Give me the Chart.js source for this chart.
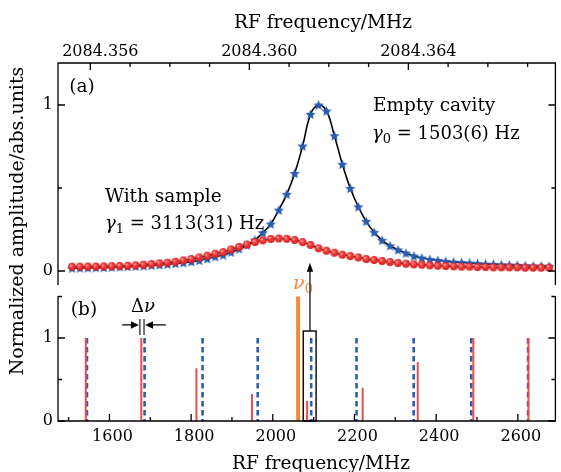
<!DOCTYPE html>
<html>
<head>
<meta charset="utf-8">
<script src="https://cdn.jsdelivr.net/npm/chart.js@4.4.1/dist/chart.umd.min.js"></script>
<style>
  html, body { margin: 0; padding: 0; background: #fff; }
</style>
</head>
<body>
<canvas id="myChart" width="561" height="472"></canvas>
<script>
// panel (a): sweep offsets in Hz from 2084.356 MHz (top axis)
const sweepHz = [
  -460, -260, -60, 140, 340, 540, 740, 940, 1140, 1340,
  1540, 1740, 1940, 2140, 2340, 2540, 2740, 2940, 3140, 3340,
  3540, 3740, 3940, 4140, 4340, 4540, 4740, 4940, 5140, 5340,
  5540, 5740, 5940, 6140, 6340, 6540, 6740, 6940, 7140, 7340,
  7540, 7740, 7940, 8140, 8340, 8540, 8740, 8940, 9140, 9340,
  9540, 9740, 9940, 10140, 10340, 10540, 10740, 10940, 11140, 11340,
  11540
];
const emptyCavity = [
  0.017, 0.018, 0.019, 0.020, 0.021, 0.023, 0.025, 0.027, 0.029, 0.031,
  0.034, 0.037, 0.041, 0.045, 0.050, 0.056, 0.064, 0.074, 0.086, 0.096,
  0.113, 0.133, 0.157, 0.187, 0.231, 0.283, 0.367, 0.462, 0.588, 0.753,
  0.944, 1.000, 0.964, 0.815, 0.643, 0.498, 0.387, 0.299, 0.233, 0.185,
  0.152, 0.127, 0.108, 0.090, 0.078, 0.070, 0.064, 0.058, 0.054, 0.051,
  0.048, 0.045, 0.042, 0.040, 0.038, 0.036, 0.034, 0.032, 0.030, 0.029,
  0.028
];
const withSample = [
  0.026, 0.026, 0.027, 0.027, 0.028, 0.029, 0.030, 0.032, 0.034, 0.038,
  0.042, 0.046, 0.050, 0.056, 0.064, 0.072, 0.082, 0.092, 0.104, 0.114,
  0.130, 0.145, 0.159, 0.175, 0.185, 0.193, 0.196, 0.194, 0.187, 0.174,
  0.157, 0.137, 0.122, 0.110, 0.098, 0.090, 0.082, 0.072, 0.066, 0.060,
  0.054, 0.048, 0.044, 0.040, 0.038, 0.034, 0.032, 0.030, 0.028, 0.026,
  0.026, 0.024, 0.024, 0.022, 0.022, 0.022, 0.022, 0.020, 0.020, 0.020,
  0.020
];

// panel (b): RF lines in MHz
const redFreq = [1542, 1678, 1813, 1949, 2084, 2220, 2355, 2491, 2626];
const redHeight = [1, 1, 0.635, 0.325, 0.24, 0.40, 0.71, 1, 1];
const blueFreq = [1545, 1686, 1828, 1963, 2094, 2205, 2345, 2486, 2625];
const blueHeight = [1, 1, 1, 1, 1, 1, 1, 1, 1];
const carrierFreq = [2062];
const carrierHeight = [1.5];

// ticks
const bottomMajor = [1600, 1800, 2000, 2200, 2400, 2600];
const bottomMinor = [1500, 1700, 1900, 2100, 2300, 2500];
const topMajorHz = [0, 4000, 8000];
const topLabels = ["2084.356", "2084.360", "2084.364"];
const topMinorHz = [1000, 2000, 3000, 5000, 6000, 7000, 9000, 10000, 11000];
const yaMajor = [0, 1], yaMinor = [0.5];
const ybMajor = [0, 1], ybMinor = [0.5, 1.5];

const SERIF = '"DejaVu Serif", serif';
const ORANGE = "#f5873a";

function starImage(r, color) {
  const c = document.createElement("canvas");
  const s = Math.ceil(r * 2 + 2);
  c.width = s; c.height = s;
  const g = c.getContext("2d");
  g.translate(s / 2, s / 2 + 0.5);
  g.beginPath();
  for (let i = 0; i < 10; i++) {
    const rr = i % 2 === 0 ? r : r * 0.45;
    const a = -Math.PI / 2 + i * Math.PI / 5;
    g.lineTo(rr * Math.cos(a), rr * Math.sin(a));
  }
  g.closePath();
  g.fillStyle = color;
  g.fill();
  return c;
}

function ballImage(r) {
  const c = document.createElement("canvas");
  const s = Math.ceil(r * 2 + 2);
  c.width = s; c.height = s;
  const g = c.getContext("2d");
  const grd = g.createRadialGradient(s / 2 - r * 0.35, s / 2 - r * 0.4, r * 0.1, s / 2, s / 2, r);
  grd.addColorStop(0, "#ff9a9a");
  grd.addColorStop(0.45, "#f23a3a");
  grd.addColorStop(1, "#d41e1e");
  g.beginPath();
  g.arc(s / 2, s / 2, r, 0, Math.PI * 2);
  g.fillStyle = grd;
  g.fill();
  return c;
}

function sticks(freqs, heights) {
  const pts = [];
  freqs.forEach((f, i) => {
    pts.push({ x: f, y: heights[i] }, { x: f, y: 0 }, { x: f, y: null });
  });
  return pts;
}

function drawRuns(ctx, runs, x, y, size, align) {
  const fonts = runs.map(r => (r.it ? "italic " : "") + (r.sub ? Math.round(size * 0.7) : size) + "px " + SERIF);
  const widths = runs.map((r, i) => { ctx.font = fonts[i]; return ctx.measureText(r.t).width; });
  const total = widths.reduce((a, b) => a + b, 0);
  let cx = align === "center" ? x - total / 2 : x;
  ctx.textAlign = "left";
  ctx.textBaseline = "middle";
  runs.forEach((r, i) => {
    ctx.font = fonts[i];
    ctx.fillStyle = r.color || "#000";
    ctx.fillText(r.t, cx, y + (r.sub ? size * 0.3 : 0));
    cx += widths[i];
  });
  ctx.fillStyle = "#000";
}

function arrowHead(ctx, x, y, dx, dy, len, half) {
  // tip at (x,y), pointing along (dx,dy)
  const px = -dy, py = dx;
  ctx.fillStyle = "#000";
  ctx.beginPath();
  ctx.moveTo(x, y);
  ctx.lineTo(x - dx * len + px * half, y - dy * len + py * half);
  ctx.lineTo(x - dx * len - px * half, y - dy * len - py * half);
  ctx.closePath();
  ctx.fill();
}

const decor = {
  id: "decor",
  afterDraw(chart) {
    const ctx = chart.ctx;
    const { left, right, top, bottom } = chart.chartArea;
    const sx = chart.scales.x, st = chart.scales.xt, ya = chart.scales.ya, yb = chart.scales.yb;
    const aBottom = 285, bTop = 296;
    ctx.save();
    ctx.strokeStyle = "#000";
    ctx.fillStyle = "#000";
    ctx.lineWidth = 1.3;

    // frames
    ctx.beginPath();
    ctx.moveTo(left, aBottom); ctx.lineTo(left, top); ctx.lineTo(right, top); ctx.lineTo(right, aBottom);
    ctx.moveTo(left, bTop); ctx.lineTo(left, bottom); ctx.lineTo(right, bottom); ctx.lineTo(right, bTop);
    ctx.stroke();

    // ticks
    ctx.beginPath();
    topMajorHz.forEach(v => { const p = st.getPixelForValue(v); ctx.moveTo(p, top); ctx.lineTo(p, top + 7); });
    topMinorHz.forEach(v => { const p = st.getPixelForValue(v); ctx.moveTo(p, top); ctx.lineTo(p, top + 4); });
    bottomMajor.forEach(v => { const p = sx.getPixelForValue(v); ctx.moveTo(p, bottom); ctx.lineTo(p, bottom - 7); });
    bottomMinor.forEach(v => { const p = sx.getPixelForValue(v); ctx.moveTo(p, bottom); ctx.lineTo(p, bottom - 4); });
    yaMajor.forEach(v => { const p = ya.getPixelForValue(v); ctx.moveTo(left, p); ctx.lineTo(left + 7, p); ctx.moveTo(right, p); ctx.lineTo(right - 7, p); });
    yaMinor.forEach(v => { const p = ya.getPixelForValue(v); ctx.moveTo(left, p); ctx.lineTo(left + 4, p); ctx.moveTo(right, p); ctx.lineTo(right - 4, p); });
    ybMajor.forEach(v => { const p = yb.getPixelForValue(v); ctx.moveTo(left, p); ctx.lineTo(left + 7, p); ctx.moveTo(right, p); ctx.lineTo(right - 7, p); });
    ybMinor.forEach(v => { const p = yb.getPixelForValue(v); ctx.moveTo(left, p); ctx.lineTo(left + 4, p); ctx.moveTo(right, p); ctx.lineTo(right - 4, p); });
    ctx.stroke();

    // tick labels
    ctx.font = "16px " + SERIF;
    ctx.textBaseline = "middle";
    ctx.textAlign = "center";
    topMajorHz.forEach((v, i) => ctx.fillText(topLabels[i], st.getPixelForValue(v) + 10, 52));
    bottomMajor.forEach(v => ctx.fillText(String(v), sx.getPixelForValue(v) + 3, 437));
    ctx.textAlign = "right";
    yaMajor.forEach(v => ctx.fillText(String(v), 53, ya.getPixelForValue(v)));
    ybMajor.forEach(v => ctx.fillText(String(v), 53, yb.getPixelForValue(v)));

    // axis titles
    ctx.font = "18.5px " + SERIF;
    ctx.textAlign = "center";
    ctx.fillText("RF frequency/MHz", 323, 23);
    ctx.fillText("RF frequency/MHz", 321, 464);
    ctx.save();
    ctx.translate(18, 221);
    ctx.rotate(-Math.PI / 2);
    ctx.font = "19px " + SERIF;
    ctx.fillText("Normalized amplitude/abs.units", 0, 0);
    ctx.restore();

    // panel labels and notes
    ctx.font = "18.5px " + SERIF;
    ctx.textAlign = "center";
    ctx.fillText("(a)", 82, 87);
    ctx.fillText("(b)", 84, 310);
    ctx.textAlign = "left";
    ctx.fillText("Empty cavity", 373, 106);
    ctx.fillText("With sample", 105, 197);
    drawRuns(ctx, [{ t: "\u03b3", it: true }, { t: "0", sub: true }, { t: " = 1503(6) Hz" }], 372, 134, 18, "left");
    drawRuns(ctx, [{ t: "\u03b3", it: true }, { t: "1", sub: true }, { t: " = 3113(31) Hz" }], 105, 224, 18, "left");
    drawRuns(ctx, [{ t: "\u0394" }, { t: "\u03bd", it: true }], 143, 307, 18, "center");
    drawRuns(ctx, [{ t: "\u03bd", it: true, color: ORANGE }, { t: "0", sub: true, color: ORANGE }], 303, 284, 19, "center");

    // box around the lines near nu0 and arrow up to panel (a)
    const bx0 = sx.getPixelForValue(2074.5), bx1 = sx.getPixelForValue(2106);
    const byTop = yb.getPixelForValue(1.084);
    ctx.strokeStyle = "#000";
    ctx.lineWidth = 1.4;
    ctx.strokeRect(bx0, byTop, bx1 - bx0, bottom - byTop);
    const ax = sx.getPixelForValue(2091);
    const tipY = ya.getPixelForValue(0.05);
    ctx.beginPath();
    ctx.moveTo(ax, byTop); ctx.lineTo(ax, tipY + 6);
    ctx.lineWidth = 1.2;
    ctx.stroke();
    arrowHead(ctx, ax, tipY, 0, -1, 9, 3.2);

    // delta nu marker
    const g1 = sx.getPixelForValue(1674.5), g2 = sx.getPixelForValue(1684.7);
    const gy0 = yb.getPixelForValue(1.229), gy1 = yb.getPixelForValue(1.036);
    const gy = yb.getPixelForValue(1.157);
    ctx.strokeStyle = "#555";
    ctx.lineWidth = 1.6;
    ctx.beginPath();
    ctx.moveTo(g1, gy0); ctx.lineTo(g1, gy1);
    ctx.moveTo(g2, gy0); ctx.lineTo(g2, gy1);
    ctx.stroke();
    ctx.strokeStyle = "#000";
    ctx.lineWidth = 1.2;
    ctx.beginPath();
    ctx.moveTo(sx.getPixelForValue(1631), gy); ctx.lineTo(g1 - 6, gy);
    ctx.moveTo(sx.getPixelForValue(1738), gy); ctx.lineTo(g2 + 6, gy);
    ctx.stroke();
    arrowHead(ctx, g1 - 1, gy, 1, 0, 8, 3.8);
    arrowHead(ctx, g2 + 1, gy, -1, 0, 8, 3.8);
    ctx.restore();
  }
};

const config = {
  type: "line",
  data: {
    datasets: [
      {
        label: "With sample",
        data: sweepHz.map((x, i) => ({ x: x, y: withSample[i] })),
        xAxisID: "xt",
        yAxisID: "ya",
        borderColor: "#000",
        borderWidth: 1.4,
        tension: 0.4,
        pointStyle: ballImage(3.9),
        pointRadius: 4,
        order: 0
      },
      {
        label: "Empty cavity",
        data: sweepHz.map((x, i) => ({ x: x, y: emptyCavity[i] })),
        xAxisID: "xt",
        yAxisID: "ya",
        borderColor: "#000",
        borderWidth: 1.6,
        tension: 0.4,
        pointStyle: starImage(5.4, "#2a5cae"),
        pointRadius: 4,
        order: 1
      },
      {
        label: "red lines",
        data: sticks(redFreq, redHeight),
        xAxisID: "x",
        yAxisID: "yb",
        borderColor: "#f04a4a",
        borderWidth: 2,
        pointRadius: 0,
        spanGaps: false,
        order: 2
      },
      {
        label: "carrier",
        data: sticks(carrierFreq, carrierHeight),
        xAxisID: "x",
        yAxisID: "yb",
        borderColor: ORANGE,
        borderWidth: 4,
        pointRadius: 0,
        spanGaps: false,
        order: 3
      },
      {
        label: "blue lines",
        data: sticks(blueFreq, blueHeight),
        xAxisID: "x",
        yAxisID: "yb",
        borderColor: "#2c5fb0",
        borderWidth: 2.6,
        borderDash: [5.5, 3.5],
        pointRadius: 0,
        spanGaps: false,
        order: 4
      }
    ]
  },
  options: {
    responsive: false,
    animation: false,
    devicePixelRatio: 1,
    layout: { padding: { left: 58, right: 0, top: 63, bottom: 51 } },
    plugins: { legend: { display: false }, tooltip: { enabled: false } },
    scales: {
      x: { type: "linear", min: 1474, max: 2692, display: false },
      xt: { type: "linear", position: "top", min: -813, max: 11699, display: false },
      ya: { type: "linear", min: -0.9036, max: 1.253, display: false },
      yb: { type: "linear", min: 0, max: 4.313, display: false }
    }
  },
  plugins: [decor]
};

const myChart = new Chart(document.getElementById("myChart"), config);
</script>
</body>
</html>
